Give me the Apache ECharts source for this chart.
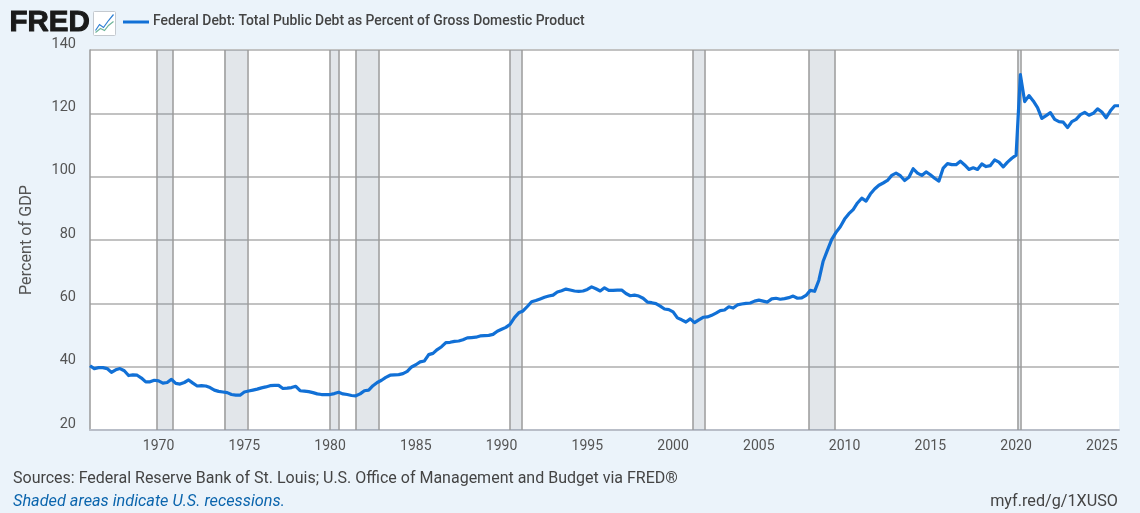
<!DOCTYPE html>
<html><head><meta charset="utf-8">
<style>html,body{margin:0;padding:0;background:#ebf3fa}#c{width:1140px;height:513px}</style>
<script src="https://cdn.jsdelivr.net/npm/echarts@6/dist/echarts.min.js"></script>
</head><body><div id="c"></div>
<script>
const seriesName = 'Federal Debt: Total Public Debt as Percent of Gross Domestic Product';
const firstYear = 1966;
const values1960s = [40.3,39.4,39.7,39.7,39.4,38.2,39,39.4,38.7,37.2,37.4,37.3,36.4,35.2,35.2,35.7];
const values1970s = [35.5,34.8,35,36,34.7,34.5,35,35.8,34.8,33.9,34,33.9,33.4,32.6,32.2,32,31.8,31.2,31,31,32,32.3,32.6,32.9,33.3,33.6,34,34.1,34.1,33.1,33.2,33.4,33.8,32.4,32.3,32.1,31.8,31.4,31.2,31.2];
const values1980s = [31.2,31.5,31.9,31.4,31.2,30.9,30.8,31.4,32.4,32.6,34,35,35.7,36.6,37.3,37.4,37.5,37.8,38.5,39.9,40.6,41.5,41.8,43.8,44.2,45.4,46.3,47.6,47.7,48,48.1,48.5,49.1,49.2,49.3,49.7,49.8,49.9,50.2,51.2];
const values1990s = [51.8,52.4,53.4,55.5,57,57.6,59,60.5,60.9,61.4,61.9,62.3,62.6,63.6,64,64.5,64.2,63.9,63.8,63.9,64.4,65.2,64.6,63.9,64.9,64.1,64.1,64.2,64.2,63.1,62.4,62.6,62.3,61.6,60.4,60.2,59.9,59.1,58.2,58];
const values2000s = [57.3,55.4,54.8,54.1,55.1,53.9,54.8,55.6,55.7,56.2,56.9,57.7,57.9,58.9,58.5,59.5,59.8,60,60.1,60.7,61,60.7,60.4,61.4,61.6,61.3,61.5,61.8,62.3,61.6,61.7,62.5,64.1,63.8,67.3,73.3,76.8,80.2,82.4,84.2];
const values2010s = [86.6,88.3,89.6,91.7,93.2,92.3,94.5,96.1,97.3,98,98.8,100.4,101.1,100.3,98.8,99.8,102.5,101.1,100.4,101.5,100.6,99.5,98.6,102.7,104.1,103.8,103.8,104.9,103.7,102.3,102.8,102.3,104,103.2,103.5,105.3,104.6,103.1,104.6,105.8];
const values2020s = [106.8,132.2,123.7,125.6,123.9,121.8,118.4,119.3,120.2,118.1,117.4,117.2,115.5,117.4,118.1,119.6,120.3,119.4,120,121.4,120.4,118.6,120.8,122.4,122.4];
const recessionStarts = [1969.92,1973.83,1980.0,1981.5,1990.5,2001.17,2007.92,2020.08];
const recessionEnds   = [1970.83,1975.17,1980.5,1982.83,1991.17,2001.83,2009.42,2020.25];
const yearTicks = [1970,1975,1980,1985,1990,1995,2000,2005,2010,2015,2020,2025];

const debt = [].concat(values1960s,values1970s,values1980s,values1990s,values2000s,values2010s,values2020s);
const points = debt.map((v,i)=>[firstYear+i/4,v]);
const textCol = '#545454';
const font = 'Roboto';
const chart = echarts.init(document.getElementById('c'),null,{renderer:'canvas'});
chart.setOption({
  animation:false,
  backgroundColor:'#ebf3fa',
  textStyle:{fontFamily:font},
  legend:{left:118,top:10,data:[seriesName],itemWidth:26,itemHeight:3,icon:'rect',itemGap:5,selectedMode:false,
    textStyle:{fontFamily:font,fontSize:13.9,fontWeight:500,color:'#444',padding:[0,0,0,-1]}},
  grid:{left:90,right:21,top:50,bottom:83,show:true,backgroundColor:'#fff',borderWidth:0},
  xAxis:{type:'value',min:1966,max:2026,
    axisLine:{show:true,onZero:false,lineStyle:{color:'#b9bec8',width:2}},
    axisTick:{show:false,customValues:yearTicks},
    splitLine:{show:false},
    axisLabel:{customValues:yearTicks,formatter:v=>String(v),color:textCol,fontSize:14,margin:9}},
  yAxis:{type:'value',min:20,max:140,interval:20,
    name:'Percent of GDP',nameLocation:'middle',nameGap:55,
    nameTextStyle:{color:textCol,fontSize:16.2,fontFamily:font},
    axisLine:{show:true,lineStyle:{color:'#9a9a9a',width:1.5}},
    axisTick:{show:false},
    splitLine:{show:true,lineStyle:{color:'#c2c2c2',width:2}},
    axisLabel:{color:textCol,fontSize:14.5,margin:14,verticalAlign:'bottom',lineHeight:12}},
  series:[{
    name:seriesName,type:'line',data:points,showSymbol:false,smooth:false,z:3,
    lineStyle:{color:'#1170d6',width:3.2,join:'round'},itemStyle:{color:'#1170d6'},
    markArea:{silent:true,z:1,itemStyle:{color:'rgba(110,130,150,0.2)',borderWidth:0},
      data:recessionStarts.map((s,i)=>[{xAxis:s},{xAxis:recessionEnds[i]}])},
    markLine:{silent:true,z:1,symbol:'none',label:{show:false},
      lineStyle:{color:'#9a9a9a',width:1.5,type:'solid'},
      data:recessionStarts.concat(recessionEnds).map(x=>({xAxis:x}))}
  }],
  graphic:[
    {type:'text',left:9,top:7,style:{text:'FRED',font:'bold 29.5px "Liberation Sans"',fill:'#1a1a1a',stroke:'#1a1a1a',lineWidth:1}},
    {type:'group',left:93,top:11,children:[
      {type:'rect',shape:{x:0,y:0,width:22,height:24,r:1},style:{fill:'#fff',stroke:'#c4c9cf',lineWidth:1}},
      {type:'polyline',shape:{points:[[2,19],[6,13],[10,16],[15,9],[20,3]]},style:{fill:'none',stroke:'#2d7fd3',lineWidth:1.2}},
      {type:'polyline',shape:{points:[[2,21],[7,17],[11,19],[15,14],[20,10]]},style:{fill:'none',stroke:'#6fb59a',lineWidth:1.2}}
    ]},
    {type:'text',left:13,top:471,style:{text:'Sources: Federal Reserve Bank of St. Louis; U.S. Office of Management and Budget via FRED®',font:'16px Roboto',fill:'#444'}},
    {type:'text',left:13,top:494,style:{text:'Shaded areas indicate U.S. recessions.',font:'italic 16.3px Roboto',fill:'#0b65ad'}},
    {type:'text',right:22,top:494,style:{text:'myf.red/g/1XUSO',font:'16.2px Roboto',fill:'#444'}}
  ]
});
</script></body></html>
